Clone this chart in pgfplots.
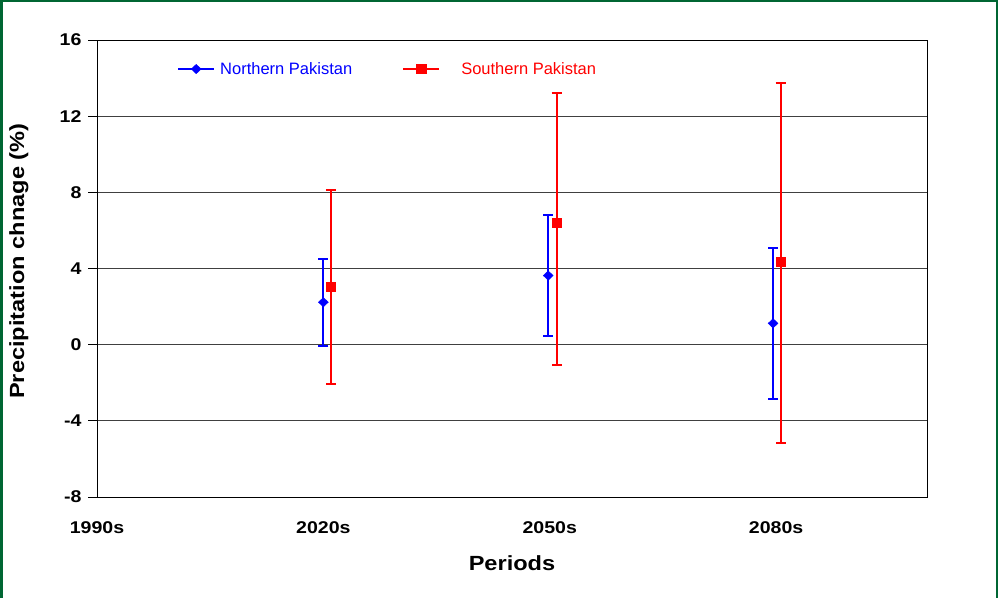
\documentclass[border=0pt]{standalone}
\usepackage{fontspec}
\setmainfont{Liberation Sans}
\newfontfamily\widefont[FakeStretch=1.15]{Liberation Sans}
\usepackage{pgfplots}
\pgfplotsset{compat=1.18}
\usetikzlibrary{shapes.geometric}
\definecolor{framegreen}{RGB}{0,102,51}
\begin{document}
\begin{tikzpicture}[x=1pt,y=1pt]
\useasboundingbox (0,0) rectangle (998,598);
\draw[framegreen, line width=2.5pt] (1.25,0) -- (1.25,596.75) -- (996.75,596.75) -- (996.75,0);
\begin{axis}[
  at={(97pt,101pt)}, anchor=south west,
  scale only axis, width=830pt, height=457pt,
  xmin=1990, xmax=2100, ymin=-8, ymax=16,
  xtick={1990,2020,2050,2080},
  xticklabels={1990s,2020s,2050s,2080s},
  ytick={-8,-4,0,4,8,12,16},
  ytick pos=left, xtick pos=bottom,
  ymajorgrids, grid style={black!75, line width=0.8pt},
  x tick style={draw=none},
  y tick style={black, line width=0.8pt},
  tick align=outside, major tick length=9pt,
  axis line style={line width=0.8pt},
  tick label style={font=\widefont\fontsize{17}{20}\selectfont\bfseries},
  xticklabel style={yshift=-12pt},
  yticklabel style={xshift=-3pt},
  /pgf/number format/assume math mode=true,
  xlabel={Periods}, ylabel={Precipitation chnage (\%)},
  label style={font=\widefont\fontsize{20.5}{24}\selectfont\bfseries},
  xlabel style={at={(axis description cs:0.5,-0.144)}, anchor=center},
  ylabel style={at={(axis description cs:-0.094,0.516)}, anchor=center},
  legend columns=2,
  legend style={draw=none, fill=none, inner sep=0pt,
    at={(axis description cs:0.0964,0.9365)}, anchor=west,
    font=\fontsize{16.5}{19}\selectfont,
    nodes={inner sep=0pt}},
  legend image code/.code={
    \draw[#1, line width=2pt] (0pt,0pt) -- (36pt,0pt);
    \path[#1] plot coordinates {(18pt,0pt)};},
]
\addplot+[only marks, color=blue, mark=diamond*, mark size=5.3pt,
  mark options={xscale=1.25, yscale=0.88, fill=blue, line width=0.4pt},
  error bars/.cd, y dir=both, y explicit,
  error bar style={line width=2pt, blue},
  error mark options={rotate=90, line width=2pt, mark size=5pt, blue}]
  coordinates {
  (2020,2.23) += (0,2.25) -= (0,2.28)
  (2049.8,3.63) += (0,3.17) -= (0,3.19)
  (2079.6,1.12) += (0,3.98) -= (0,3.95)
};
\addlegendentry{\hspace{5pt}\textcolor{blue}{Northern Pakistan}\hspace{50pt}\null}
\addplot+[only marks, color=red, mark=square*, mark size=4.6pt,
  mark options={fill=red, line width=0.4pt},
  error bars/.cd, y dir=both, y explicit,
  error bar style={line width=2pt, red},
  error mark options={rotate=90, line width=2pt, mark size=5pt, red}]
  coordinates {
  (2021,3.06) += (0,5.05) -= (0,5.13)
  (2050.9,6.40) += (0,6.80) -= (0,7.45)
  (2080.6,4.34) += (0,9.39) -= (0,9.51)
};
\addlegendentry{\hspace{21pt}\textcolor{red}{Southern Pakistan}}
\end{axis}
\end{tikzpicture}
\end{document}
